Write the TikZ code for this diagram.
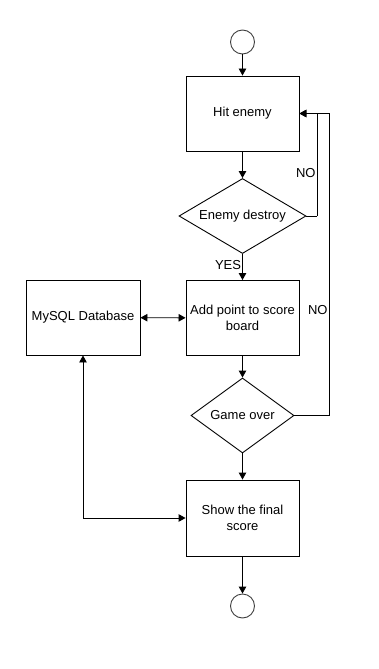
\documentclass[tikz,border=0pt]{standalone}
\usepackage{fontspec}
\setmainfont{Liberation Sans}
\usetikzlibrary{shapes.geometric,arrows.meta}
\begin{document}
\begin{tikzpicture}[x=1pt,y=-1pt,
  every node/.style={font=\fontsize{13}{15.5}\selectfont, text=black},
  line/.style={draw=black, line width=0.9pt},
  arr/.style={line, -{Triangle[length=7pt,width=7.5pt]}},
  darr/.style={line, {Triangle[length=7pt,width=7.5pt]}-{Triangle[length=7pt,width=7.5pt]}},
  procbox/.style={draw=black, line width=0.9pt, rectangle, minimum width=113pt, minimum height=75pt, align=center, inner sep=0pt},
  decision/.style={draw=black, line width=0.9pt, diamond, inner sep=0pt, align=center},
  terminal/.style={draw=black!75, line width=0.9pt, circle, minimum size=24pt, inner sep=0pt}
]
\useasboundingbox (0,0) rectangle (378,669);

% flow nodes
\node[terminal] (start) at (242.5,42) {};
\node[procbox] (hit) at (242.5,113.5) {Hit enemy};
\node[decision, aspect=1.69, minimum width=127pt, minimum height=75pt] (ed) at (242.5,216) {Enemy destroy};
\node[procbox] (add) at (242.5,318) {Add point to score\\board};
\node[decision, aspect=1.37, minimum width=103pt, minimum height=75pt] (go) at (242.5,415.5) {Game over};
\node[procbox, minimum height=76pt] (show) at (242.5,518) {Show the final\\score};
\node[terminal] (end) at (242.5,606) {};
\node[procbox, minimum width=114pt] (db) at (83,317.5) {MySQL Database};

% loop-back corners
\coordinate (c1) at (317,216);
\coordinate (c2) at (329,415.5);

% main sequence
\draw[arr] (start) -- (hit);
\draw[arr] (hit) -- (ed);
\draw[arr] (ed) -- node[anchor=east, inner sep=1pt, pos=0.42] {YES} (add);
\draw[arr] (add) -- (go);
\draw[arr] (go) -- (show);
\draw[arr] (show) -- (end);

% NO branches back to the first step
\draw[line] (ed.east) -- (c1);
\draw[arr] (c1) -- node[anchor=east, inner sep=1pt, pos=0.42] {NO} (c1 |- hit.east) -- (hit.east);
\draw[line] (go.east) -- (c2);
\draw[arr] (c2) -- node[anchor=east, inner sep=1pt, pos=0.35] {NO} (c2 |- hit.east) -- (hit.east);

% database links
\draw[darr] (db) -- (add);
\draw[darr] (db.south) |- (show.west);
\end{tikzpicture}
\end{document}
